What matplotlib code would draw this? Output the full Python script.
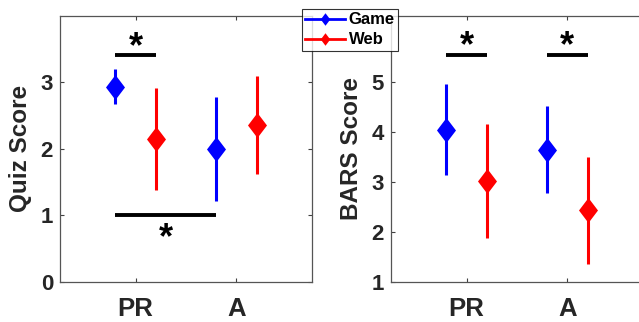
import matplotlib
matplotlib.use("Agg")
import matplotlib.pyplot as plt
from matplotlib.path import Path
from matplotlib.lines import Line2D
import numpy as np

plt.rcParams['font.family'] = ['Liberation Sans', 'DejaVu Sans']
plt.rcParams['font.weight'] = 'bold'
plt.rcParams['axes.labelweight'] = 'bold'

groups = ['PR', 'A']

quiz_game = [2.93, 2.00]
quiz_game_lo = [2.67, 1.22]
quiz_game_hi = [3.20, 2.78]
quiz_web = [2.15, 2.36]
quiz_web_lo = [1.38, 1.62]
quiz_web_hi = [2.91, 3.10]

bars_game = [4.05, 3.65]
bars_game_lo = [3.14, 2.79]
bars_game_hi = [4.97, 4.52]
bars_web = [3.03, 2.44]
bars_web_lo = [1.89, 1.37]
bars_web_hi = [4.17, 3.51]

series_names = ['Game', 'Web']
series_colors = ['#0000ff', '#ff0000']

diamond = Path([(0, 1), (0.76, 0), (0, -1), (-0.76, 0), (0, 1)],
               [Path.MOVETO, Path.LINETO, Path.LINETO, Path.LINETO, Path.CLOSEPOLY])

W, H = 639, 322
fig = plt.figure(figsize=(W / 100, H / 100), dpi=100)
ax1 = fig.add_axes([60 / W, 40 / H, 252 / W, 266.3 / H])
ax2 = fig.add_axes([391 / W, 40 / H, 252 / W, 266.3 / H])

x = np.arange(1, len(groups) + 1)
off = 0.2
tcol = '#262626'


def draw(ax, g, glo, ghi, w, wlo, whi):
    for vals, lo, hi, col, dx in [(g, glo, ghi, series_colors[0], -off),
                                  (w, wlo, whi, series_colors[1], off)]:
        vals = np.array(vals); lo = np.array(lo); hi = np.array(hi)
        ax.errorbar(x + dx, vals, yerr=[vals - lo, hi - vals], fmt='none',
                    ecolor=col, elinewidth=2.2, capsize=0, zorder=2)
        ax.plot(x + dx, vals, linestyle='none', marker=diamond, markersize=18,
                color=col, markeredgewidth=0, zorder=3)
    ax.set_xlim(0.25, 2.75)
    ax.set_xticks(x)
    ax.set_xticklabels(groups, fontsize=18.5, color=tcol)
    ax.tick_params(axis='both', direction='in', top=True, right=True,
                   length=3, width=0.8, color='#404040')
    ax.tick_params(axis='y', labelsize=16, labelcolor=tcol, pad=5)
    ax.tick_params(axis='x', labelcolor=tcol, pad=11)
    for s in ax.spines.values():
        s.set_color('#555555')
        s.set_linewidth(0.9)


draw(ax1, quiz_game, quiz_game_lo, quiz_game_hi, quiz_web, quiz_web_lo, quiz_web_hi)
ax1.set_ylim(0, 4)
ax1.set_yticks([0, 1, 2, 3])
ax1.set_ylabel('Quiz Score', fontsize=17.5, color=tcol, fontweight='bold')
ax1.yaxis.set_label_coords(-0.11, 0.5)

draw(ax2, bars_game, bars_game_lo, bars_game_hi, bars_web, bars_web_lo, bars_web_hi)
ax2.set_ylim(1, 6.33)
ax2.set_yticks([1, 2, 3, 4, 5])
ax2.set_ylabel('BARS Score', fontsize=17.5, color=tcol, fontweight='bold')
ax2.yaxis.set_label_coords(-0.11, 0.5)

# significance markers
sig_lw = 2.8
ax1.plot([0.8, 1.2], [3.41, 3.41], color='black', lw=sig_lw, solid_capstyle='butt')
ax1.text(1.0, 3.52, '*', fontsize=26, ha='center', va='center', color='black')
ax1.plot([0.8, 1.8], [1.0, 1.0], color='black', lw=sig_lw, solid_capstyle='butt')
ax1.text(1.3, 0.65, '*', fontsize=26, ha='center', va='center', color='black')
for cx in x:
    ax2.plot([cx - 0.2, cx + 0.2], [5.55, 5.55], color='black', lw=sig_lw, solid_capstyle='butt')
    ax2.text(cx, 5.72, '*', fontsize=26, ha='center', va='center', color='black')

handles = [Line2D([0], [0], color=c, lw=2, marker=diamond, markersize=9, markeredgewidth=0)
           for c in series_colors]
leg = fig.legend(handles, series_names, loc='upper left',
                 bbox_to_anchor=(302 / W, 1 - 9 / H), bbox_transform=fig.transFigure,
                 fontsize=12, frameon=True, fancybox=False, borderaxespad=0,
                 borderpad=0.2, handlelength=2.4, handletextpad=0.2, labelspacing=0.3)
leg.get_frame().set_edgecolor('black')
leg.get_frame().set_linewidth(0.8)
leg.set_zorder(10)

fig.savefig('out.png', dpi=100)
